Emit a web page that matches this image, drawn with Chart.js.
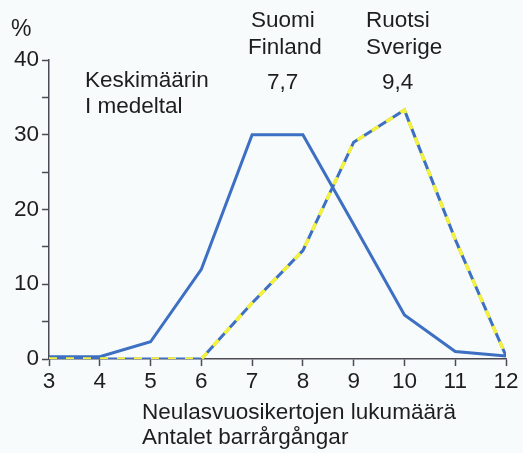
<!DOCTYPE html>
<html>
<head>
<meta charset="utf-8">
<script src="https://cdn.jsdelivr.net/npm/chart.js@4/dist/chart.umd.min.js"></script>
<style>
  html, body { margin: 0; padding: 0; background: #f7fbfb; }
  #wrap { width: 523px; height: 453px; }
</style>
</head>
<body>
<div id="wrap"><canvas id="needles" width="523" height="453"></canvas></div>
<script>
// number of needle age classes on the x axis
const ageClasses = [3, 4, 5, 6, 7, 8, 9, 10, 11, 12];
// share of trees, %
const finland = [0.3, 0.3, 2.3, 12, 30, 30, 18, 5.9, 1, 0.4];
const sweden = [0, 0, 0, 0, 7.5, 14.5, 29, 33.3, 16, 0.4];
const yTicks = [0, 10, 20, 30, 40];
const meanFinland = "7,7";
const meanSweden = "9,4";

const blue = "#3d6fc2";
const yellow = "#f4f23c";
const ink = "#1e1e1e";
const axisColor = "#4b4a55";
const FONT = "Liberation Sans, Arial, sans-serif";

function pts(arr) {
    return ageClasses.map(function (x, i) { return { x: x, y: arr[i] }; });
}

// free text around the plot: heading, averages and the two-line axis title
const notes = [
    { t: "%", x: 11, y: 36, s: 23 },
    { t: "Keskimäärin", x: 85, y: 87 },
    { t: "I medeltal", x: 85, y: 113 },
    { t: "Suomi", x: 251, y: 27 },
    { t: "Finland", x: 248, y: 54 },
    { t: meanFinland, x: 267, y: 89 },
    { t: "Ruotsi", x: 366, y: 27 },
    { t: "Sverige", x: 366, y: 54 },
    { t: meanSweden, x: 382, y: 89 },
    { t: "Neulasvuosikertojen lukumäärä", x: 142, y: 419 },
    { t: "Antalet barrårgångar", x: 142, y: 444 }
];

const textPlugin = {
    id: "notes",
    afterDraw: function (chart) {
        let ctx = chart.ctx;
        ctx.save();
        ctx.fillStyle = ink;
        ctx.textBaseline = "alphabetic";
        ctx.textAlign = "left";
        notes.forEach(function (n) {
            ctx.font = (n.s || 22.5) + "px " + FONT;
            ctx.fillText(n.t, n.x, n.y);
        });
        ctx.restore();
    }
};

const tickStyle = {
    display: true,
    drawOnChartArea: false,
    drawTicks: true,
    tickLength: 7,
    tickWidth: 1.5,
    color: axisColor
};

new Chart(document.getElementById("needles"), {
    type: "line",
    data: {
        datasets: [
            {
                label: "Suomi",
                data: pts(finland),
                borderColor: blue,
                borderWidth: 3,
                pointRadius: 0,
                tension: 0,
                order: 2
            },
            {
                label: "Ruotsi",
                data: pts(sweden),
                borderColor: blue,
                borderWidth: 3,
                pointRadius: 0,
                tension: 0,
                order: 1
            },
            {
                // yellow dashes laid over the Swedish line
                label: "Ruotsi (viiva)",
                data: pts(sweden),
                borderColor: yellow,
                borderWidth: 3.5,
                borderDash: [8, 9],
                pointRadius: 0,
                tension: 0,
                order: 0
            }
        ]
    },
    options: {
        responsive: false,
        animation: false,
        layout: { padding: { left: 0, right: 17, top: 60, bottom: 0 } },
        plugins: { legend: { display: false }, tooltip: { enabled: false } },
        scales: {
            x: {
                type: "linear",
                min: 3,
                max: 12,
                afterFit: function (s) { s.height = 94; },
                border: { display: true, color: axisColor, width: 1.5 },
                grid: tickStyle,
                ticks: {
                    stepSize: 1,
                    color: ink,
                    padding: 2,
                    font: { family: FONT, size: 22.5 }
                }
            },
            y: {
                min: 0,
                max: 40,
                afterFit: function (s) { s.width = 49; },
                afterBuildTicks: function (s) {
                    s.ticks = [0, 5, 10, 15, 20, 25, 30, 35, 40].map(function (v) { return { value: v }; });
                },
                border: { display: true, color: axisColor, width: 1.5 },
                grid: tickStyle,
                ticks: {
                    color: ink,
                    padding: 3,
                    font: { family: FONT, size: 22.5 },
                    callback: function (v) { return yTicks.indexOf(v) >= 0 ? String(v) : ""; }
                }
            }
        }
    },
    plugins: [textPlugin]
});
</script>
</body>
</html>
